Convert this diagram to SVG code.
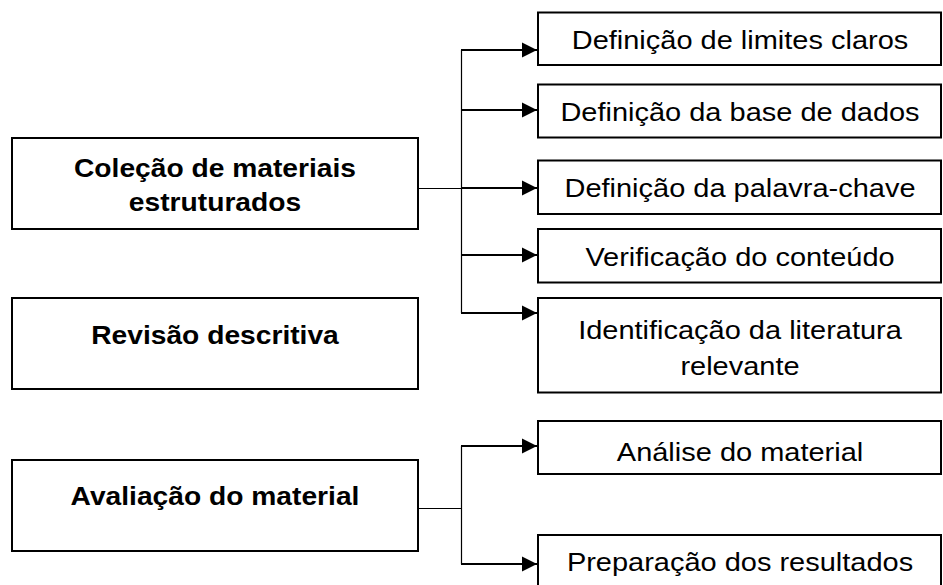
<svg xmlns="http://www.w3.org/2000/svg" width="943" height="585" viewBox="0 0 943 585">
<style>
.box{fill:#fff;stroke:#000;stroke-width:2}
.t{font-family:"Liberation Sans",Arial,sans-serif;font-size:26px;fill:#000;text-anchor:middle}
.b{font-family:"Liberation Sans",Arial,sans-serif;font-size:26px;font-weight:bold;fill:#000;text-anchor:middle}
.thin{fill:none;stroke:#000;stroke-width:1.2}
.arr{fill:none;stroke:#000;stroke-width:2.2;marker-end:url(#ah)}
</style>
<defs>
<marker id="ah" markerWidth="8" markerHeight="8" refX="7" refY="3.5" orient="auto" markerUnits="strokeWidth">
<path d="M0,0 L7,3.5 L0,7 Z" fill="#000"/>
</marker>
</defs>
<rect width="943" height="585" fill="#fff"/>
<g id="connectors">
<path class="thin" d="M418,188.5 H461.5 M461.5,50 V313"/>
<path class="arr" d="M461,50 H537"/>
<path class="arr" d="M461,110 H537"/>
<path class="arr" d="M461,188 H537"/>
<path class="arr" d="M461,255 H537"/>
<path class="arr" d="M461,313 H537"/>
<path class="thin" d="M418,508.5 H461.5 M461.5,446 V564"/>
<path class="arr" d="M461,446 H537"/>
<path class="arr" d="M461,564 H537"/>
</g>
<g id="colecao">
<rect class="box" x="12" y="138" width="406" height="91"/>
<text class="b" transform="translate(215,176.5) scale(1.085,1)">Coleção de materiais</text>
<text class="b" transform="translate(215,211) scale(1.085,1)">estruturados</text>
</g>
<g id="revisao">
<rect class="box" x="12" y="298" width="406" height="91"/>
<text class="b" transform="translate(215,343.5) scale(1.085,1)">Revisão descritiva</text>
</g>
<g id="avaliacao">
<rect class="box" x="12" y="460" width="406" height="91"/>
<text class="b" transform="translate(215,505) scale(1.085,1)">Avaliação do material</text>
</g>
<g id="limites">
<rect class="box" x="538" y="12.5" width="403" height="52.5"/>
<text class="t" transform="translate(740,49) scale(1.115,1)">Definição de limites claros</text>
</g>
<g id="base">
<rect class="box" x="538" y="84.5" width="403" height="53"/>
<text class="t" transform="translate(740,121) scale(1.115,1)">Definição da base de dados</text>
</g>
<g id="palavra">
<rect class="box" x="538" y="160.5" width="403" height="53.5"/>
<text class="t" transform="translate(740,197) scale(1.115,1)">Definição da palavra-chave</text>
</g>
<g id="verificacao">
<rect class="box" x="538" y="229" width="403" height="53.5"/>
<text class="t" transform="translate(740,265.5) scale(1.115,1)">Verificação do conteúdo</text>
</g>
<g id="identificacao">
<rect class="box" x="538" y="298" width="403" height="94.5"/>
<text class="t" transform="translate(740,338.5) scale(1.115,1)">Identificação da literatura</text>
<text class="t" transform="translate(740,375) scale(1.115,1)">relevante</text>
</g>
<g id="analise">
<rect class="box" x="538" y="421" width="403" height="53"/>
<text class="t" transform="translate(740,461) scale(1.115,1)">Análise do material</text>
</g>
<g id="preparacao">
<rect class="box" x="538" y="535" width="403" height="60"/>
<text class="t" transform="translate(740,571) scale(1.115,1)">Preparação dos resultados</text>
</g>
</svg>
